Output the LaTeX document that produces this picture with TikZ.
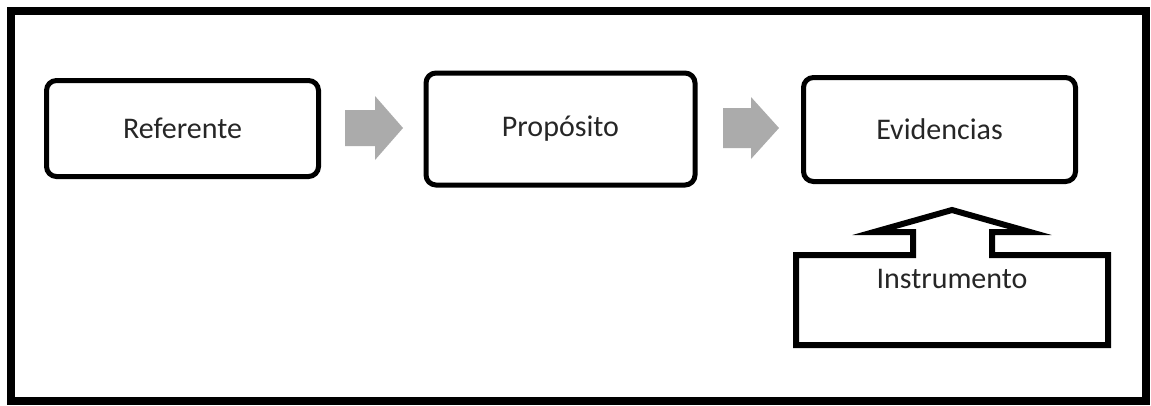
\documentclass[tikz,border=0pt]{standalone}
\usepackage{fontspec}
\setmainfont{Carlito}
\begin{document}
\begin{tikzpicture}[x=1pt,y=-1pt,
  stagebox/.style={draw=black, line width=5pt, rounded corners=10pt},
  lbl/.style={font=\fontsize{30}{34}\selectfont, text=black!85},
  grayarrow/.style={fill=black!33, draw=none}]
\useasboundingbox (0,0) rectangle (1151,405);
\node[draw=black, line width=8pt, minimum width=1135pt, minimum height=390pt, inner sep=0pt] (frame) at (578.5,206) {};
% boxes
\node[stagebox, minimum width=272pt, minimum height=96pt] (ref) at (182.5,128.5) {};
\node[stagebox, minimum width=269pt, minimum height=112pt] (prop) at (560.5,129) {};
\node[stagebox, minimum width=272pt, minimum height=104pt] (evid) at (939.5,129.5) {};
\node[lbl] (reft) at (ref.center) {Referente};
\node[lbl] (propt) at (prop.center) {Propósito};
\node[lbl] (evidt) at (evid.center) {Evidencias};
% gray arrows
\coordinate (a1) at (345,128);
\fill[grayarrow] (a1) ++(0,-18) -- ++(30,0) -- ++(0,-14) -- ++(28,32) -- ++(-28,32) -- ++(0,-14) -- ++(-30,0) -- cycle;
\coordinate (a2) at (723,128);
\fill[grayarrow] (a2) ++(0,-20) -- ++(28,0) -- ++(0,-11) -- ++(28,31) -- ++(-28,31) -- ++(0,-11) -- ++(-28,0) -- cycle;
% instrument callout
\coordinate (ins) at (952,279);
\draw[line width=6pt, line join=miter, miter limit=20] (796,255) -- (913,255) -- (913,232) -- (874,232) -- (952,210) -- (1030,232) -- (992,232) -- (992,255) -- (1108,255) -- (1108,345) -- (796,345) -- cycle;
\node[lbl] (inst) at (ins) {Instrumento};
\end{tikzpicture}
\end{document}
